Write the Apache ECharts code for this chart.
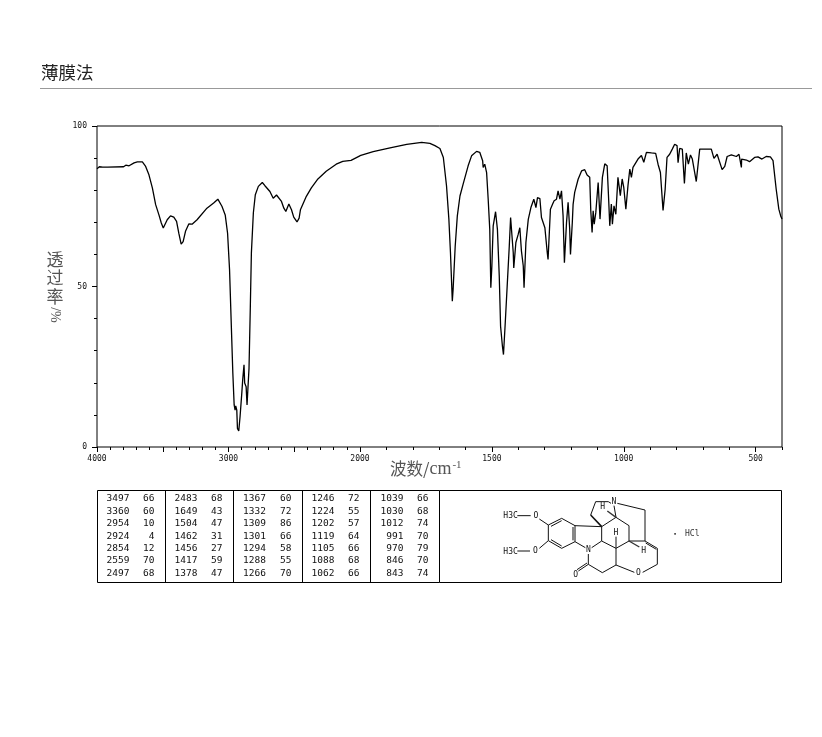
<!DOCTYPE html>
<html><head><meta charset="utf-8">
<style>html,body{margin:0;padding:0;background:#fff}#c{width:822px;height:737px}</style>
<script src="https://cdn.jsdelivr.net/npm/echarts@6/dist/echarts.min.js"></script>
</head><body><div id="c"></div>
<script>
// Spectrum, high wavenumber part (4000-2000 cm-1), drawn at half scale on the instrument chart
const wavenumbersHigh = [4000,3982,3957,3919,3798,3781,3756,3718,3693,3655,3630,3605,3579,3554,3529,3511,3496,3486,3466,3441,3416,3395,3378,3360,3345,3327,3302,3277,3239,3164,3113,3081,3050,3025,3007,2992,2980,2967,2957,2950,2945,2937,2932,2922,2912,2899,2892,2882,2877,2866,2859,2851,2844,2834,2826,2811,2796,2773,2743,2723,2685,2660,2635,2597,2579,2564,2541,2521,2504,2479,2463,2453,2408,2370,2320,2257,2181,2131,2068,2005,2000];
const transmittanceHigh = [86.7,87.3,87.2,87.2,87.3,87.8,87.6,88.5,88.8,88.8,87.4,84.8,80.7,75.5,72.3,69.8,68.2,68.5,70.8,72.0,71.6,70.3,66.6,63.2,64.0,67.2,69.5,69.4,70.8,74.4,76.0,77.2,75.0,72.3,66.6,55.2,39.6,23.0,13.1,11.5,12.8,11.5,5.8,5.0,9.5,16.7,20.9,25.6,19.9,18.8,13.1,13.1,24.5,43.8,60.4,72.9,78.6,81.2,82.4,81.4,79.6,77.5,78.5,76.5,74.4,73.4,75.7,73.9,71.6,70.1,71.3,73.9,78.1,80.7,83.5,85.9,88.1,89.0,89.3,90.6,90.8];
// Spectrum, low wavenumber part (2000-400 cm-1)
const wavenumbersLow = [2000,1950,1886,1823,1766,1735,1716,1697,1684,1672,1663,1657,1650,1647,1639,1631,1621,1609,1604,1590,1577,1558,1546,1535,1533,1527,1520,1514,1508,1504,1500,1495,1486,1479,1472,1467,1460,1456,1450,1442,1434,1429,1424,1419,1417,1409,1400,1394,1388,1381,1378,1371,1362,1352,1341,1333,1327,
 1318,1312,1299,1290,1287,1278,1270,1264,1255,1249,1242,1236,1230,1225,1217,1211,1205,1202,1195,1192,1186,1173,1160,1148,1139,1134,1129,1125,1120,1116,1112,1106,1097,1090,1081,1072,1063,1057,1053,1047,1043,1037,1030,1022,1013,1006,1000,992,984,977,971,965,946,933,924,914,
 895,879,870,861,851,843,836,826,816,807,798,794,788,778,770,763,755,747,740,731,725,712,706,681,668,658,646,639,627,617,608,592,573,563,554,553,535,523,504,491,476,460,444,434,422,412,405,400];
const transmittanceLow = [90.8,92.0,93.2,94.3,94.9,94.6,93.9,93.0,90.2,81.4,70.9,60.5,45.4,49.1,62.6,72.0,78.2,81.9,81.9,87.6,90.7,92.1,91.8,89.2,87.1,88.1,85.5,77.2,67.8,49.6,56.4,68.9,73.3,67.8,53.2,37.6,31.4,28.8,37.6,50.1,62.6,71.5,70.9,60.5,55.8,63.7,66.3,68.3,61.1,56.4,49.6,63.7,70.9,74.6,77.2,74.6,77.7,
 77.4,71.5,68.3,60.5,58.4,74.1,75.6,76.7,77.2,79.8,77.2,79.8,72.0,57.4,69.9,76.2,68.0,60.0,70.0,75.6,79.3,83.4,86.0,86.4,84.7,84.5,84.0,73.6,66.8,73.6,69.4,73.0,82.4,71.0,84.0,88.2,87.6,76.7,68.9,75.7,69.4,75.1,72.5,84.0,78.3,83.5,80.9,74.1,81.4,86.6,84.0,87.1,89.7,90.8,88.7,91.8,
 91.6,91.5,88.1,85.5,73.7,80.3,90.2,91.2,92.8,94.3,93.9,88.6,93.0,92.8,82.1,91.6,88.1,91.0,89.7,85.5,82.7,92.8,93.3,92.8,92.8,89.9,91.2,91.2,86.4,87.4,90.5,91.0,90.5,91.2,87.1,89.7,89.4,88.9,90.2,90.4,89.7,90.5,90.4,89.2,80.3,74.1,72.0,71.0];

const xMinorTicksHigh = [4000,3900,3800,3700,3600,3500,3400,3300,3200,3100,3000,2900,2800,2700,2600,2500,2400,2300,2200,2100,2000];
const xMajorTicksHigh = [4000,3500,3000,2500,2000];
const xLabelsHigh = [4000,3000,2000];
const xMinorTicksLow = [2000,1900,1800,1700,1600,1500,1400,1300,1200,1100,1000,900,800,700,600,500,400];
const xMajorTicksLow = [2000,1500,1000,500];
const xLabelsLow = [1500,1000,500];
const yMajorTicks = [0,50,100];

const peakColumns = [
  [['3497','66'],['3360','60'],['2954','10'],['2924','4'],['2854','12'],['2559','70'],['2497','68']],
  [['2483','68'],['1649','43'],['1504','47'],['1462','31'],['1456','27'],['1417','59'],['1378','47']],
  [['1367','60'],['1332','72'],['1309','86'],['1301','66'],['1294','58'],['1288','55'],['1266','70']],
  [['1246','72'],['1224','55'],['1202','57'],['1119','64'],['1105','66'],['1088','68'],['1062','66']],
  [['1039','66'],['1030','68'],['1012','74'],['991','70'],['970','79'],['846','70'],['843','74']]
];

const MONO = '"DejaVu Sans Mono", monospace';
const CJK = '"Noto Sans CJK SC", sans-serif';
const LABEL = {fontFamily: MONO, fontSize: 8, color: '#111'};

function xAxisPair(gridIndex, min, max, minor, major, labels) {
  return [
    {type:'value', gridIndex, position:'bottom', inverse:true, min, max, axisLine:{show:false}, splitLine:{show:false},
     axisTick:{show:true, length:3, customValues:minor, lineStyle:{color:'#000'}}, axisLabel:{show:false}},
    {type:'value', gridIndex, position:'bottom', inverse:true, min, max, axisLine:{show:false}, splitLine:{show:false},
     axisTick:{show:true, length:5, customValues:major, lineStyle:{color:'#000'}},
     axisLabel:Object.assign({show:true, margin:8, customValues:labels, hideOverlap:false, formatter:v=>String(v)}, LABEL)}
  ];
}

const graphic = [];
function line(x1,y1,x2,y2,w,color){
  graphic.push({type:'line', silent:true, shape:{x1,y1,x2,y2}, style:{stroke:color||'#000', lineWidth:w||1}});
}
function text(x,y,t,o){
  graphic.push({type:'text', silent:true, x, y, rotation:(o&&o.rotation)||0, style:Object.assign({text:t, fill:'#111', font:'9.5px '+MONO, align:'left', verticalAlign:'middle'}, o&&o.style)});
}

// title rule
line(40,88.5,812,88.5,1,'#999');
text(41,72,'薄膜法',{style:{font:'17.5px '+CJK, fill:'#222'}});

// axis names
text(55,260,'透',{style:{font:'17px '+CJK, fill:'#555', align:'center'}});
text(55,278,'过',{style:{font:'17px '+CJK, fill:'#555', align:'center'}});
text(55,297,'率',{style:{font:'17px '+CJK, fill:'#555', align:'center'}});
text(55,315,'/%',{rotation:-Math.PI/2, style:{font:'14px "Liberation Serif", serif', fill:'#555', align:'center'}});
graphic.push({type:'text', silent:true, x:390, y:469, style:{
  text:'{a|波数/}{c|cm}{b|-1}', align:'left', verticalAlign:'middle',
  rich:{a:{font:'16.5px '+CJK, fill:'#555'},
        c:{font:'18px "Liberation Serif", serif', fill:'#555'},
        b:{font:'11px "Liberation Serif", serif', fill:'#555', verticalAlign:'top', padding:[0,0,7,1]}}}});

// peak table frame
const TX0=97.5, TX1=781.5, TY0=490.5, TY1=582.5;
line(TX0,TY0,TX1,TY0); line(TX0,TY1,TX1,TY1); line(TX0,TY0,TX0,TY1); line(TX1,TY0,TX1,TY1);
[165.5,233.5,302.5,370.5,439.5].forEach(x=>line(x,TY0,x,TY1));
const wnRight=[129.5,197.5,266,334.5,403.5], valRight=[154.5,222.5,291.5,359.5,428.5];
const rowY=[499,511.5,524,536.5,549,561,573.5];
peakColumns.forEach((col,c)=>col.forEach((row,r)=>{
  text(wnRight[c],rowY[r],row[0],{style:{align:'right'}});
  text(valRight[c],rowY[r],row[1],{style:{align:'right'}});
}));

// molecular structure, traced in a 3x frame anchored at (480,485)
const mx=v=>480+v/3, my=v=>485+v/3;
const bonds=[[112,92,152,92],[178,102,205,120],[205,120,245,100],[245,100,285,122],[285,122,285,170],[285,170,245,190],[245,190,205,167],[205,167,205,120],
[213,124,245,107],[279,126,279,166],[213,164,245,183],[112,198,150,198],[178,190,205,167],[285,122,365,125],[285,170,316,188],[365,125,365,168],[365,168,335,188],
[325,207,325,238],[325,238,295,258],[321,234,291,254],[325,238,367,263],[367,263,408,240],[408,240,408,190],[408,190,365,168],[408,190,447,168],[447,168,447,122],[447,122,408,97],[408,97,365,125],
[332,90,347,50],[347,50,385,50],[385,50,393,55],[402,62,408,97],[412,55,495,75],[495,75,495,168],[447,168,495,168],[495,168,532,190],[497,174,529,193],[532,190,532,238],[532,238,488,262],[463,262,408,240],[408,155,408,190]];
bonds.forEach(b=>line(mx(b[0]),my(b[1]),mx(b[2]),my(b[3]),1,'#111'));
line(mx(365),my(125),mx(332),my(90),1.6,'#111');
line(mx(408),my(97),mx(382),my(78),1.4,'#333');
line(mx(447),my(168),mx(478),my(186),1.4,'#333');
[[168,92,'O'],[166,199,'O'],[325,196,'N'],[287,270,'O'],[402,50,'N'],[475,263,'O'],[368,67,'H'],[408,143,'H'],[491,198,'H']].forEach(a=>
  text(mx(a[0]),my(a[1]),a[2],{style:{align:'center', font:'8px '+MONO}}));
text(mx(70),my(92),'H3C',{style:{font:'8px '+MONO}});
text(mx(70),my(200),'H3C',{style:{font:'8px '+MONO}});
text(mx(580),my(147),'•',{style:{font:'6px '+MONO}});
text(mx(615),my(147),'HCl',{style:{font:'8px '+MONO, fill:'#333'}});

const option = {
  animation:false,
  backgroundColor:'#fff',
  grid:[
    {left:97,top:126,width:263,height:321,show:false},
    {left:360,top:126,width:422,height:321,show:false},
    {left:97,top:126,width:685,height:321,show:true,borderColor:'#000',borderWidth:1,backgroundColor:'transparent'}
  ],
  xAxis:[
    ...xAxisPair(0,2000,4000,xMinorTicksHigh,xMajorTicksHigh,xLabelsHigh),
    ...xAxisPair(1,400,2000,xMinorTicksLow,xMajorTicksLow,xLabelsLow)
  ],
  yAxis:[
    {type:'value',gridIndex:0,min:0,max:100,interval:10,axisLine:{show:false},splitLine:{show:false},
     axisTick:{show:true,length:3,lineStyle:{color:'#000'}},axisLabel:{show:false}},
    {type:'value',gridIndex:0,min:0,max:100,position:'left',axisLine:{show:false},splitLine:{show:false},
     axisTick:{show:true,length:5,customValues:yMajorTicks,lineStyle:{color:'#000'}},
     axisLabel:Object.assign({show:true,margin:10,customValues:yMajorTicks,hideOverlap:false},LABEL)},
    {type:'value',gridIndex:1,min:0,max:100,show:false}
  ],
  series:[
    {type:'line',xAxisIndex:0,yAxisIndex:0,symbol:'none',silent:true,clip:true,lineStyle:{color:'#000',width:1.3},
     data:wavenumbersHigh.map((w,i)=>[w,transmittanceHigh[i]])},
    {type:'line',xAxisIndex:2,yAxisIndex:2,symbol:'none',silent:true,clip:true,lineStyle:{color:'#000',width:1.3},
     data:wavenumbersLow.map((w,i)=>[w,transmittanceLow[i]])}
  ],
  graphic:{elements:graphic}
};
const chart = echarts.init(document.getElementById('c'),null,{renderer:'canvas'});
chart.setOption(option);
</script></body></html>
